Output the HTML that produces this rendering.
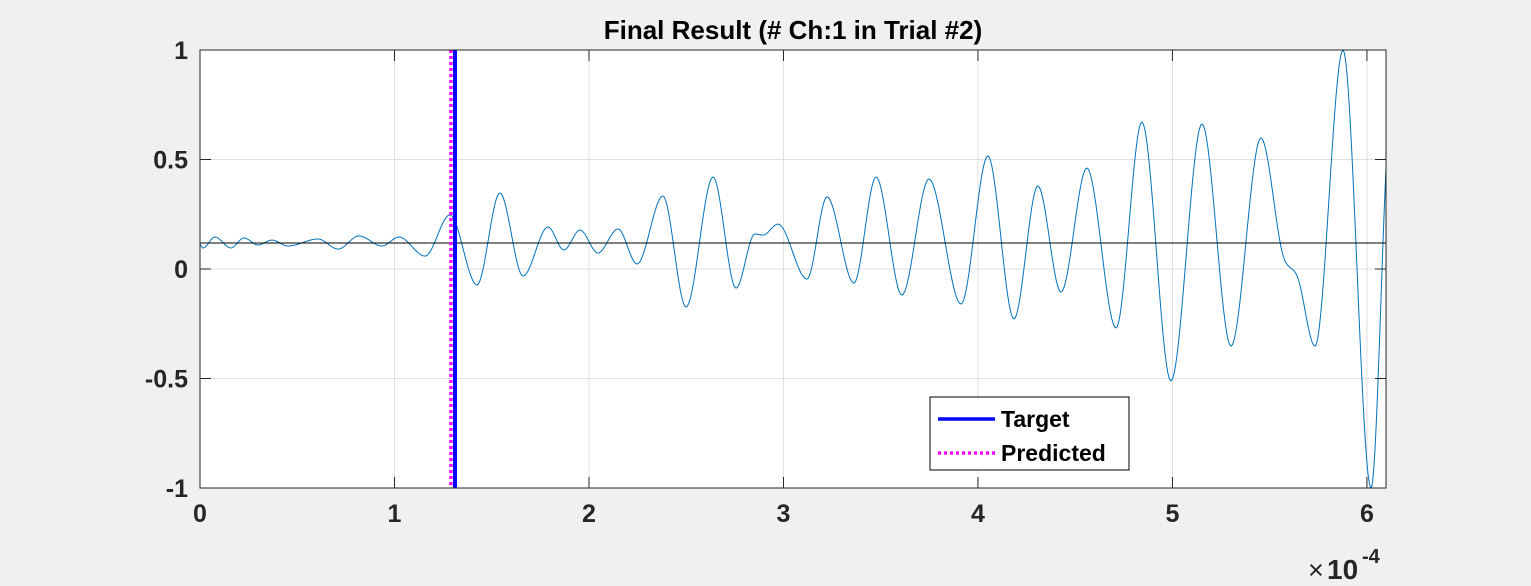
<!DOCTYPE html>
<html><head><meta charset="utf-8"><style>
html,body{margin:0;padding:0;background:#f0f0f0;}
svg{display:block;font-family:"Liberation Sans",Arial,sans-serif;}
</style></head><body>
<svg id="chart" width="1531" height="586" viewBox="0 0 1531 586">
<rect width="1531" height="586" fill="#f0f0f0"/>
<rect x="200" y="50" width="1186" height="438" fill="#fff"/>
<g id="grid"></g>
<g id="series"></g>
<g id="axes"></g>
<text x="793" y="39" text-anchor="middle" font-size="26" font-weight="bold" fill="#000">Final Result (# Ch:1 in Trial #2)</text>
<g>
<text x="1308" y="579" font-size="27" fill="#262626">×</text>
<text x="1327" y="579" font-size="28" fill="#262626" font-weight="bold">10</text>
<text x="1362" y="563" font-size="20" fill="#262626" font-weight="bold">-4</text>
</g>
<g>
<rect x="930" y="397" width="199" height="73" fill="#fff" stroke="#000" stroke-width="1"/>
<line x1="938" y1="419" x2="995" y2="419" stroke="#0000ff" stroke-width="3.5"/>
<text x="1001" y="427" font-size="23" font-weight="bold">Target</text>
<line x1="938" y1="453" x2="995" y2="453" stroke="#ff00ff" stroke-width="3.5" stroke-dasharray="3,3"/>
<text x="1001" y="461" font-size="23" font-weight="bold">Predicted</text>
</g>
</svg>
<script>
const xTicks=[0,1,2,3,4,5,6];
const yTicks=[-1,-0.5,0,0.5,1];
const yTickLabels=["-1","-0.5","0","0.5","1"];
const sigX=[0,0.015,0.077,0.159,0.226,0.298,0.370,0.452,0.607,0.710,0.817,0.936,1.023,1.157,1.285,1.424,1.542,1.661,1.789,1.871,1.954,2.046,2.149,2.247,2.380,2.499,2.638,2.756,2.853,2.895,2.972,3.121,3.224,3.362,3.476,3.609,3.748,3.913,4.051,4.185,4.308,4.427,4.560,4.710,4.843,4.992,5.152,5.301,5.455,5.568,5.645,5.733,5.877,6.021,6.098];
const sigY=[0.114,0.096,0.146,0.096,0.142,0.110,0.132,0.105,0.137,0.091,0.151,0.105,0.146,0.059,0.247,-0.073,0.347,-0.032,0.192,0.087,0.178,0.073,0.183,0.023,0.333,-0.174,0.420,-0.087,0.160,0.155,0.205,-0.046,0.329,-0.064,0.420,-0.119,0.411,-0.160,0.516,-0.228,0.379,-0.105,0.461,-0.269,0.671,-0.511,0.662,-0.352,0.598,0.064,-0.041,-0.352,1.0,-1.0,0.46];
const baseline=[0.119];
const targetX=[1.311];
const predictedX=[1.290];
const X0=200,X1=1386,Y0=50,Y1=488,XMAX=6.098;
const sx=v=>X0+v/XMAX*(X1-X0);
const sy=v=>Y0+(1-v)/2*(Y1-Y0);
const NS="http://www.w3.org/2000/svg";
function mk(tag,attrs,parent){const e=document.createElementNS(NS,tag);for(const k in attrs)e.setAttribute(k,attrs[k]);parent.appendChild(e);return e;}
const grid=document.getElementById('grid'),axes=document.getElementById('axes'),series=document.getElementById('series');
xTicks.forEach(t=>{
 const g=mk('line',{x1:sx(t),x2:sx(t),y1:Y0,y2:Y1,stroke:'#dfdfdf','stroke-width':1},grid);
 
 
 const tk=mk('line',{x1:sx(t),x2:sx(t),y1:Y1,y2:Y1-11,stroke:'#262626'},axes);
 
 
 const tk2=mk('line',{x1:sx(t),x2:sx(t),y1:Y0,y2:Y0+11,stroke:'#262626'},axes);
 
 
 const l=mk('text',{x:sx(t),y:Y1+34,'text-anchor':'middle','font-size':25,'font-weight':'bold',fill:'#262626'},axes);
 l.textContent=String(t);
 
 
});
yTicks.forEach((t,i)=>{
 const g=mk('line',{x1:X0,x2:X1,y1:sy(t),y2:sy(t),stroke:'#dfdfdf','stroke-width':1},grid);
 
 
 const tk=mk('line',{x1:X0,x2:X0+11,y1:sy(t),y2:sy(t),stroke:'#262626'},axes);
 
 
 const tk2=mk('line',{x1:X1,x2:X1-11,y1:sy(t),y2:sy(t),stroke:'#262626'},axes);
 
 
 const l=mk('text',{x:X0-12,y:sy(t)+9,'text-anchor':'end','font-size':25,'font-weight':'bold',fill:'#262626'},axes);
 l.textContent=yTickLabels[i];
 
 
});
const box=mk('rect',{x:X0,y:Y0,width:X1-X0,height:Y1-Y0,fill:'none',stroke:'#262626','stroke-width':1},axes);


function monotone(xs,ys){
 const n=xs.length,d=[],m=new Array(n);
 for(let i=0;i<n-1;i++)d.push((ys[i+1]-ys[i])/(xs[i+1]-xs[i]));
 m[0]=d[0];m[n-1]=d[n-2];
 for(let i=1;i<n-1;i++){m[i]=(d[i-1]*d[i]<=0)?0:(d[i-1]+d[i])/2;}
 for(let i=0;i<n-1;i++){if(d[i]===0){m[i]=m[i+1]=0;continue;}const a=m[i]/d[i],b=m[i+1]/d[i],s=a*a+b*b;if(s>9){const t=3/Math.sqrt(s);m[i]=t*a*d[i];m[i+1]=t*b*d[i];}}
 const pts=[];
 for(let i=0;i<n-1;i++){const h=xs[i+1]-xs[i];for(let k=0;k<20;k++){const t=k/20,t2=t*t,t3=t2*t;
  const y=(2*t3-3*t2+1)*ys[i]+(t3-2*t2+t)*h*m[i]+(-2*t3+3*t2)*ys[i+1]+(t3-t2)*h*m[i+1];
  pts.push([xs[i]+t*h,y]);}}
 pts.push([xs[n-1],ys[n-1]]);return pts;
}
const pts=monotone(sigX,sigY);
const sig=mk('path',{d:'M'+pts.map(p=>sx(p[0]).toFixed(2)+','+sy(p[1]).toFixed(2)).join('L'),fill:'none',stroke:'#0072bd','stroke-width':1},series);


const bl=mk('line',{x1:X0,x2:X1,y1:sy(baseline[0]),y2:sy(baseline[0]),stroke:'#000','stroke-width':1},series);


const tl=mk('line',{x1:sx(targetX[0]),x2:sx(targetX[0]),y1:Y0,y2:Y1,stroke:'#0000ff','stroke-width':4},series);


const pl=mk('line',{x1:sx(predictedX[0]),x2:sx(predictedX[0]),y1:Y0,y2:Y1,stroke:'#ff00ff','stroke-width':3.5,'stroke-dasharray':'3,3'},series);


</script>
</body></html>
